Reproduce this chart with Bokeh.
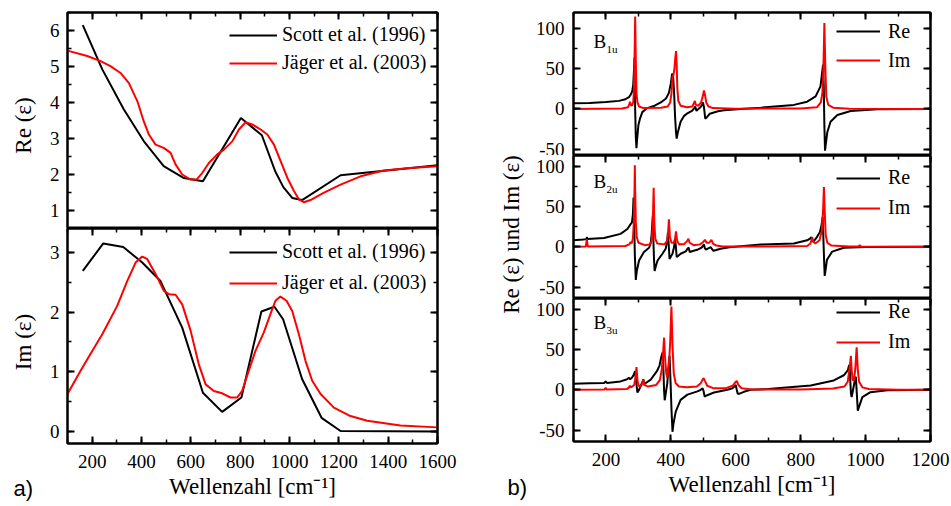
from bokeh.plotting import figure
from bokeh.layouts import row, column
from bokeh.models import (FixedTicker, LinearAxis, Range1d, Legend, LegendItem, Label,
                          CustomLabelingPolicy)
from bokeh.embed import file_html
from bokeh.resources import INLINE

# ---------------- data: panel a ----------------
scott_re_x = [162, 241, 328, 409, 490, 572, 649, 803, 888, 942, 975, 1011, 1051, 1207, 1600]
scott_re_y = [6.15, 4.92, 3.81, 2.93, 2.23, 1.90, 1.81, 3.57, 3.09, 2.09, 1.65, 1.35, 1.29, 1.98, 2.26]

jaeger_re_x = [100, 180, 234, 274, 315, 349, 383, 409, 430, 457, 490, 518, 538, 565, 599, 623,
               646, 673, 707, 734, 768, 795, 822, 849, 883, 910, 937, 964, 991, 1018, 1038,
               1058, 1085, 1138, 1207, 1288, 1382, 1490, 1600]
jaeger_re_y = [5.44, 5.29, 5.15, 5.01, 4.82, 4.54, 4.04, 3.48, 3.11, 2.83, 2.74, 2.60, 2.28, 2.00,
               1.86, 1.86, 2.04, 2.32, 2.56, 2.69, 2.92, 3.25, 3.45, 3.39, 3.25, 3.11, 2.83, 2.37,
               1.91, 1.54, 1.31, 1.23, 1.29, 1.49, 1.72, 1.95, 2.11, 2.18, 2.23]

scott_im_x = [162, 245, 326, 403, 477, 565, 649, 727, 805, 886, 939, 974, 1051, 1130, 1207, 1600]
scott_im_y = [2.69, 3.15, 3.09, 2.83, 2.52, 1.74, 0.65, 0.33, 0.57, 2.01, 2.09, 1.88, 0.88, 0.23, 0.01, 0.0]

jaeger_im_x = [100, 153, 193, 241, 301, 342, 376, 403, 423, 457, 490, 511, 538, 565, 599, 632,
               660, 693, 727, 761, 788, 808, 835, 862, 896, 923, 943, 963, 988, 1011, 1038,
               1065, 1092, 1126, 1180, 1247, 1315, 1450, 1600]
jaeger_im_y = [0.63, 1.02, 1.30, 1.63, 2.10, 2.52, 2.83, 2.93, 2.89, 2.64, 2.36, 2.30, 2.29, 2.13,
               1.69, 1.13, 0.79, 0.68, 0.64, 0.57, 0.57, 0.68, 1.02, 1.35, 1.66, 1.97, 2.19, 2.26,
               2.19, 2.02, 1.63, 1.18, 0.85, 0.63, 0.40, 0.26, 0.18, 0.10, 0.07]

# ---------------- data: panel b ----------------
b1u_re_x = [100, 150, 200, 240, 260, 272, 278, 281, 284, 286, 288, 289, 290, 292, 294, 296, 300, 305,
            312, 327, 350, 369, 385, 394, 400, 404, 407, 410, 413, 416, 418, 421, 430, 440, 451, 466,
            472, 475, 479, 485, 493, 499, 502, 506, 510, 520, 545, 564, 605, 677, 779, 820, 846, 861,
            866, 869, 871, 873, 875, 878, 882, 892, 913, 954, 1036, 1200]
b1u_re_y = [7, 7.5, 8.5, 10, 12, 15, 19, 22, 30, 45, 64, 40, 0, -35, -49, -38, -20, -12,
            -4, 1, 4, 8, 13, 20, 32, 44, 40, 20, -10, -30, -37, -30, -16, -9, -5.5, -2,
            1, 3, -2.5, 0, 3, 8, 2, -12, -11, -6, -3, -1.6, -0.5, 1.5, 5, 9, 15.6, 28,
            45, 55, 30, -20, -52, -42, -29, -16, -7.6, -2.6, -0.5, 0]
b1u_im_x = [100, 250, 268, 272, 274, 276, 280, 284, 286, 288, 290, 292, 294, 297, 302, 315, 370,
            390, 398, 402, 405, 408, 411, 414, 416, 418, 420, 423, 430, 450, 466, 471, 474, 477,
            485, 493, 498, 502, 505, 509, 516, 530, 600, 800, 850, 862, 867, 870, 873, 876, 879,
            885, 900, 950, 1200]
b1u_im_y = [0, 0.5, 2, 6, 9, 5, 4, 8, 20, 60, 115, 60, 20, 8, 3, 1, 1.5,
            3, 8, 20, 40, 42, 50, 65, 72, 55, 25, 10, 4, 2, 3, 7, 10, 5,
            4, 8, 15, 23, 18, 8, 3, 1, 0.3, 0.5, 2, 8, 20, 50, 107, 50, 15,
            5, 1.5, 0.3, 0]

b2u_re_x = [100, 130, 140, 141, 143, 194, 245, 266, 276, 280, 283, 285, 287, 289, 292, 295, 302,
            317, 333, 338, 341, 343, 344.5, 346, 348, 350, 353, 359, 374, 384, 389, 391, 393, 396,
            400, 405, 410, 413, 415, 418, 423, 430, 446, 452, 455, 458, 465, 481, 495, 502, 505,
            508, 515, 523, 527, 531, 540, 553, 580, 677, 779, 820, 830, 833, 836, 839, 850, 859,
            864, 867.6, 870, 872, 874, 877, 881, 897, 933, 1000, 1200]
b2u_re_y = [8, 9, 9.5, 12, 9.5, 11, 16, 22, 28, 30, 40, 61, 30, -10, -41, -30, -17,
            -6.5, -1.2, 5, 16, 30, 39, 10, -15, -30, -25, -17, -8.6, -2.5, 8, 18, 5, -15,
            -12, -8.6, 0, 10, 2, -12.7, -11, -8.6, -5.7, -2, -1, -6.5, -5.5, -3.7, -1, 3, -2,
            -3.5, -2, -0.5, -3, -5, -4, -2.5, -0.5, 2.7, 4, 8, 10.5, 12, 8, 6, 12, 18,
            26, 37, 10, -15, -36, -28, -16, -6, -1.2, -0.3, 0]
b2u_im_x = [100, 138, 141, 144, 260, 272, 276, 279, 283, 286, 288, 289, 290, 292, 295, 300, 320,
            335, 341, 344, 347, 349, 352, 358, 380, 388, 391, 394, 397, 402, 409, 413, 416, 419,
            425, 440, 450, 454, 458, 470, 490, 500, 505, 510, 518, 525, 530, 540, 560, 700, 820,
            830, 834, 836, 838, 845, 858, 865, 869, 871.6, 874, 877, 882, 895, 950, 978, 982, 986, 1200]
b2u_im_y = [0, 0.5, 9.5, 0.5, 1, 3, 6, 4, 10, 30, 70, 101, 70, 30, 12, 5, 2,
            3, 8, 25, 73, 30, 10, 4, 3, 7, 15, 34, 12, 5, 5, 10, 19, 8,
            3, 3, 7, 10, 5, 2, 3, 6, 8.6, 5, 5, 8.6, 4, 1.5, 0.5, 0.3, 1,
            4, 9, 11.5, 7, 4, 8, 20, 45, 74, 45, 15, 5, 1.5, 0.3, 0.3, 2, 0.3, 0]

b3u_re_x = [100, 150, 195, 199, 203, 245, 265, 271, 274, 280, 286, 290, 293, 297, 302, 307, 312,
            315, 318, 325, 338, 357, 365, 371, 375, 377, 379, 381, 384, 389, 393, 396, 399, 402,
            405, 408, 415, 430, 451, 482, 492, 498, 501, 504, 510, 533, 574, 590, 598, 600, 603,
            606, 610, 625, 646, 700, 831, 902, 933, 945, 949, 951, 953, 955, 957, 960, 965, 968,
            970, 973, 976, 979, 990, 1015, 1067, 1200]
b3u_re_y = [7.5, 8, 8.5, 10.5, 8.5, 10.4, 13, 15, 13, 15, 19, 23, 10, -3.4, 0, 5, 9,
            13, 7, 9, 12.5, 23, 30, 41.6, 46.6, 25, 0, -13, -5, 8, 30, 42, 10, -25,
            -52, -42, -27, -12.5, -6, -2, 0, 2, -2, -8.4, -7, -3.4, 0, 2, 5, 6, 0,
            -5, -5, -2.5, 0, 1, 5.4, 11.6, 18, 24, 30, 30.5, 10, -5, -9, -3, 8, 15,
            16, -5, -26, -22, -9, -3, -0.5, 0]
b3u_im_x = [100, 196, 199, 202, 265, 271, 274, 277, 287, 291, 294, 297, 301, 307, 312, 315, 318,
            330, 355, 366, 372, 376, 379, 382, 386, 389, 394, 398, 401.7, 405, 409, 415, 425, 450,
            480, 492, 497, 501, 505, 512, 530, 570, 590, 598, 603, 608, 618, 650, 800, 900, 935,
            945, 950, 954.7, 957, 960, 964, 968, 972.5, 976, 980, 990, 1010, 1100, 1200]
b3u_im_y = [0, 0.3, 2.5, 0.3, 1, 3, 5, 3, 6, 15, 28, 12, 5, 4, 8, 12.5, 6,
            4, 6, 12, 25, 45, 64.5, 40, 20, 15, 30, 60, 103, 55, 20, 8, 4, 3,
            4, 8, 12, 14.5, 11, 5, 2, 2, 5, 9, 11, 6, 2, 0.5, 0.5, 1.5, 4,
            10, 25, 42, 25, 12, 12, 25, 52.5, 25, 10, 3, 1, 0.2, 0]

legend_a = ["Scott et al. (1996)", "J\u00e4ger et al. (2003)"]
legend_b = ["Re", "Im"]
sub_labels = ["1u", "2u", "3u"]
ylabels_a = ["Re (\u03b5)", "Im (\u03b5)"]
ylabel_b = "Re (\u03b5) und Im (\u03b5)"
XLABEL = "Wellenzahl [cm\u207b\u00b9]"
panel_tags = ["a)", "b)"]

xticks_a = [200, 400, 600, 800, 1000, 1200, 1400, 1600]
xminor_a = list(range(100, 1700, 100))
xticks_b = [200, 400, 600, 800, 1000, 1200]
xminor_b = list(range(100, 1300, 100))
yticks_re = [1, 2, 3, 4, 5, 6]
yminor_re = [0.5 + 0.5 * i for i in range(13)]
yticks_im = [0, 1, 2, 3]
yminor_im = [-0.5 + 0.5 * i for i in range(9)]
yticks_b = [-50, 0, 50, 100]
yminor_b = [-75, -50, -25, 0, 25, 50, 75, 100, 125]

SERIF = "Liberation Serif"
SANS = "Liberation Sans"
BLACK = "#000000"
RED = "#ff0000"
TICK_FS = "19px"
LABEL_FS = "23px"


def style_axis(ax, show_labels, standoff=8):
    ax.axis_line_width = 2
    ax.axis_line_color = BLACK
    ax.major_tick_in = 7
    ax.major_tick_out = 0
    ax.minor_tick_in = 4
    ax.minor_tick_out = 0
    ax.major_tick_line_width = 2
    ax.minor_tick_line_width = 1.5
    ax.major_tick_line_color = BLACK
    ax.minor_tick_line_color = BLACK
    ax.axis_label_text_font = SERIF
    ax.axis_label_text_font_style = "normal"
    ax.axis_label_text_font_size = LABEL_FS
    ax.axis_label_text_color = BLACK
    if show_labels:
        ax.major_label_text_font = SERIF
        ax.major_label_text_font_size = TICK_FS
        ax.major_label_text_color = BLACK
        ax.major_label_standoff = standoff
    else:
        ax.major_label_text_font_size = "0px"
        ax.major_label_standoff = 0
        ax.major_label_policy = CustomLabelingPolicy(code="return []")


def make_panel(fw, fh, xr, yr, mb, xt, xm, yt, ym, bottom_labels):
    left, right, top, bottom = mb
    p = figure(frame_width=fw, frame_height=fh,
               x_range=Range1d(*xr), y_range=Range1d(*yr),
               output_backend="svg", toolbar_location=None,
               min_border_left=left, min_border_right=right,
               min_border_top=top, min_border_bottom=bottom,
               x_axis_location=None, y_axis_location=None)
    p.grid.visible = False
    p.outline_line_color = BLACK
    p.outline_line_width = 2
    p.background_fill_color = "white"
    p.border_fill_color = "white"
    ax_l = LinearAxis(ticker=FixedTicker(ticks=yt, minor_ticks=ym))
    style_axis(ax_l, True, 8)
    p.add_layout(ax_l, "left")
    ax_r = LinearAxis(ticker=FixedTicker(ticks=yt, minor_ticks=ym))
    style_axis(ax_r, False)
    p.add_layout(ax_r, "right")
    ax_t = LinearAxis(ticker=FixedTicker(ticks=xt, minor_ticks=xm))
    style_axis(ax_t, False)
    p.add_layout(ax_t, "above")
    ax_b = None
    if bottom_labels:
        ax_b = LinearAxis(ticker=FixedTicker(ticks=xt, minor_ticks=xm))
        style_axis(ax_b, True, 11)
        ax_b.axis_label = XLABEL
        ax_b.axis_label_standoff = 3
        p.add_layout(ax_b, "below")
    return p, ax_l


def add_legend(p, renderers, labels, loc, gw, standoff, spacing):
    items = [LegendItem(label=l, renderers=[r]) for l, r in zip(labels, renderers)]
    lg = Legend(items=items, location=loc, border_line_color=None,
                background_fill_alpha=0, padding=0, margin=0, spacing=spacing,
                glyph_width=gw, glyph_height=20, label_height=20,
                label_standoff=standoff, label_text_font=SERIF,
                label_text_font_size="20px", label_text_color=BLACK)
    p.add_layout(lg)


def make_strip(width):
    s = figure(frame_width=width, frame_height=506, x_range=Range1d(0, 1), y_range=Range1d(0, 1),
               output_backend="svg", toolbar_location=None,
               min_border_left=0, min_border_right=0, min_border_top=0, min_border_bottom=0,
               x_axis_location=None, y_axis_location=None)
    s.grid.visible = False
    s.outline_line_color = None
    s.border_fill_color = "white"
    s.background_fill_color = "white"
    return s


def vlabel(s, text, x, y_top):
    s.add_layout(Label(x=x, y=506 - y_top, x_units="screen", y_units="screen",
                       text=text, angle=90, angle_units="deg",
                       text_font=SERIF, text_font_size=LABEL_FS, text_color=BLACK,
                       text_align="center", text_baseline="middle"))


def tag(s, text, x, y_top):
    s.add_layout(Label(x=x, y=506 - y_top, x_units="screen", y_units="screen",
                       text=text, text_font=SANS, text_font_size="22px", text_color=BLACK,
                       text_align="left", text_baseline="middle"))


# ---------------- left column ----------------
sa = make_strip(40)
vlabel(sa, ylabels_a[0], 22.5, 125)
vlabel(sa, ylabels_a[1], 22.5, 341.5)
tag(sa, panel_tags[0], 13, 487.5)

fa1, _ = make_panel(370, 216, (100, 1600), (0.5, 6.5), (27, 33, 12, 0),
                    xticks_a, xminor_a, yticks_re, yminor_re, False)
r1 = fa1.line(scott_re_x, scott_re_y, line_color=BLACK, line_width=2)
r2 = fa1.line(jaeger_re_x, jaeger_re_y, line_color=RED, line_width=2)
add_legend(fa1, [r1, r2], legend_a, (162, 154), 48, 5, 5)

fa2, _ = make_panel(370, 215, (100, 1600), (-0.2, 3.4), (27, 33, 0, 63),
                    xticks_a, xminor_a, yticks_im, yminor_im, True)
r3 = fa2.line(scott_im_x, scott_im_y, line_color=BLACK, line_width=2)
r4 = fa2.line(jaeger_im_x, jaeger_im_y, line_color=RED, line_width=2)
add_legend(fa2, [r3, r4], legend_a, (162, 149), 48, 5, 8)

# ---------------- right column ----------------
sb = make_strip(60)
vlabel(sb, ylabel_b, 41, 234)
tag(sb, panel_tags[1], 37, 487)

b_data = [(b1u_re_x, b1u_re_y, b1u_im_x, b1u_im_y),
          (b2u_re_x, b2u_re_y, b2u_im_x, b2u_im_y),
          (b3u_re_x, b3u_re_y, b3u_im_x, b3u_im_y)]
b_yr = [(-58, 120), (-64, 113), (-64, 113)]
b_mb = [(43, 21, 12, 0), (43, 21, 0, 0), (43, 21, 0, 65)]
leg_y = [83.5, 79, 88]
leg_sp = [6, 7, 7]
b_label_y = [114, 117, 119]
figs_b = []
for i, (rx, ry, ix, iy) in enumerate(b_data):
    fb, fb_l = make_panel(357, 143, (100, 1200), b_yr[i], b_mb[i],
                          xticks_b, xminor_b, yticks_b, yminor_b, i == 2)
    fb_l.major_label_overrides = {-50: "-50", 0: "0", 50: "50", 100: "100"}
    fb_l.major_label_standoff = 9
    ra = fb.line(rx, ry, line_color=BLACK, line_width=2)
    rb = fb.line(ix, iy, line_color=RED, line_width=2)
    add_legend(fb, [ra, rb], legend_b, (263, leg_y[i]), 44, 8, leg_sp[i])
    fb.add_layout(Label(x=20, y=b_label_y[i], x_units="screen", y_units="screen", text="B",
                        text_font=SERIF, text_font_size="19px", text_color=BLACK,
                        text_baseline="alphabetic"))
    fb.add_layout(Label(x=33, y=b_label_y[i] - 7, x_units="screen", y_units="screen",
                        text=sub_labels[i], text_font=SERIF, text_font_size="11px",
                        text_color=BLACK, text_baseline="alphabetic"))
    figs_b.append(fb)

layout = row(sa, column(fa1, fa2, spacing=0), sb, column(*figs_b, spacing=0), spacing=0)

html = file_html(layout, INLINE)
html = html.replace("<head>", "<head><style>html,body{margin:0;padding:0;}</style>", 1)
open("out.html", "w").write(html)
